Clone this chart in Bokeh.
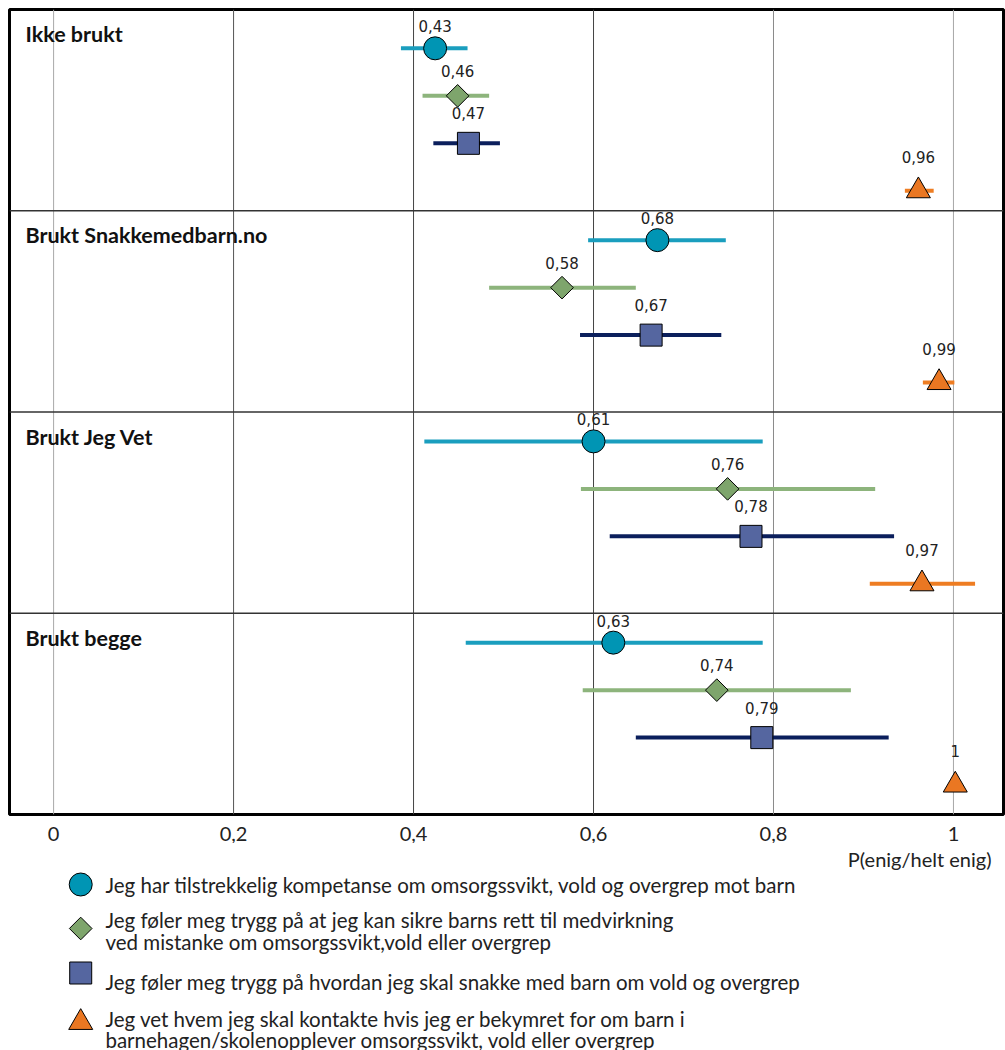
import numpy as np
from bokeh.plotting import figure
from bokeh.models import Range1d, FixedTicker, Span
from bokeh.layouts import column
from bokeh.embed import file_html
from bokeh.resources import INLINE
from bokeh.core.properties import value

# ---------------- data ----------------
groups = ["Ikke brukt", "Brukt Snakkemedbarn.no", "Brukt Jeg Vet", "Brukt begge"]

series_text = [
    ["Jeg har tilstrekkelig kompetanse om omsorgssvikt, vold og overgrep mot barn"],
    ["Jeg føler meg trygg på at jeg kan sikre barns rett til medvirkning",
     "ved mistanke om omsorgssvikt,vold eller overgrep"],
    ["Jeg føler meg trygg på hvordan jeg skal snakke med barn om vold og overgrep"],
    ["Jeg vet hvem jeg skal kontakte hvis jeg er bekymret for om barn i",
     "barnehagen/skolenopplever omsorgssvikt, vold eller overgrep"],
]

est_kompetanse = [0.424, 0.671, 0.600, 0.622]
lo_kompetanse = [0.386, 0.594, 0.412, 0.458]
hi_kompetanse = [0.460, 0.747, 0.788, 0.788]
lab_kompetanse = ["0,43", "0,68", "0,61", "0,63"]

est_medvirkning = [0.449, 0.565, 0.749, 0.737]
lo_medvirkning = [0.410, 0.484, 0.586, 0.588]
hi_medvirkning = [0.484, 0.647, 0.913, 0.886]
lab_medvirkning = ["0,46", "0,58", "0,76", "0,74"]

est_snakke = [0.461, 0.664, 0.775, 0.787]
lo_snakke = [0.422, 0.585, 0.618, 0.647]
hi_snakke = [0.496, 0.742, 0.934, 0.928]
lab_snakke = ["0,47", "0,67", "0,78", "0,79"]

est_kontakte = [0.961, 0.984, 0.965, 1.002]
lo_kontakte = [0.946, 0.966, 0.907, 1.002]
hi_kontakte = [0.978, 1.001, 1.024, 1.002]
lab_kontakte = ["0,96", "0,99", "0,97", "1"]

tick_vals = [0, 0.2, 0.4, 0.6, 0.8, 1]
tick_labels = ["0", "0,2", "0,4", "0,6", "0,8", "1"]
x_axis_label = "P(enig/helt enig)"

# ---------------- styles ----------------
styles = [
    dict(marker="circle", size=23, angle=0, fill="#0095B4", ci="#1A9EBE", dy=-22),
    dict(marker="square", size=16, angle=np.pi / 4, fill="#7EA56C", ci="#8DB47C", dy=-25),
    dict(marker="square", size=22, angle=0, fill="#5566A0", ci="#0B1F5C", dy=-30),
    dict(marker="triangle", size=24, angle=0, fill="#EA7722", ci="#EE7D22", dy=-34),
]
row_pos = [0.146, 0.382, 0.618, 0.854]
group_shift = [0.047, 0.0, 0.0, 0.0]
grid_colors = ["#A8A8A8", "#555555", "#444444", "#444444", "#8A8A8A", "#A8A8A8"]

data = [
    (est_kompetanse, lo_kompetanse, hi_kompetanse, lab_kompetanse),
    (est_medvirkning, lo_medvirkning, hi_medvirkning, lab_medvirkning),
    (est_snakke, lo_snakke, hi_snakke, lab_snakke),
    (est_kontakte, lo_kontakte, hi_kontakte, lab_kontakte),
]

X0, X1 = -0.049, 1.0556
n_groups = len(groups)
W = 1005
MAIN_H = 843

p = figure(width=W, height=MAIN_H, x_range=Range1d(X0, X1),
           y_range=Range1d(n_groups, 0), output_backend="svg",
           toolbar_location=None, y_axis_location=None,
           min_border_left=9, min_border_right=2, min_border_top=9,
           min_border_bottom=28)
p.background_fill_color = "white"
p.outline_line_color = "black"
p.outline_line_width = 3
p.xgrid.visible = False
p.ygrid.visible = False

# vertical grid lines
p.segment(x0=tick_vals, y0=[0] * len(tick_vals), x1=tick_vals,
          y1=[n_groups] * len(tick_vals), line_color=grid_colors, line_width=1)

# panel separators
for k in range(1, n_groups):
    p.add_layout(Span(location=k, dimension="width", line_color="#333333",
                      line_width=1.5))

# panel titles
p.text(x=[X0] * n_groups, y=[k + 0.122 for k in range(n_groups)], text=groups,
       x_offset=16, text_align="left", text_baseline="middle",
       text_font=value("Lato"), text_font_style="bold", text_font_size="21.5px",
       text_color="#111111")

for s, (est, lo, hi, lab) in enumerate(data):
    st = styles[s]
    ys = [k + row_pos[s] + group_shift[k] for k in range(n_groups)]
    p.segment(x0=lo, y0=ys, x1=hi, y1=ys, line_color=st["ci"], line_width=4,
              line_cap="butt")
    p.scatter(x=est, y=ys, marker=st["marker"], size=st["size"], angle=st["angle"],
              fill_color=st["fill"], line_color="black", line_width=1)
    p.text(x=est, y=ys, text=lab, text_align="center", text_baseline="alphabetic",
           y_offset=st["dy"], text_font=value("DejaVu Sans"), text_font_size="15px",
           text_color="#222222")

ax = p.xaxis[0]
ax.ticker = FixedTicker(ticks=tick_vals)
ax.major_label_overrides = {v: l for v, l in zip(tick_vals, tick_labels)}
ax.axis_line_color = None
ax.major_tick_line_color = None
ax.minor_tick_line_color = None
ax.major_label_standoff = 6
ax.major_label_text_font = "Lato"
ax.major_label_text_font_size = "20px"
ax.major_label_text_color = "#222222"

# ---------------- legend figure ----------------
LW, LH = 997, 1050 - MAIN_H
lg = figure(width=LW, height=LH, x_range=Range1d(0, LW), y_range=Range1d(LH, 0),
            output_backend="svg", toolbar_location=None,
            x_axis_location=None, y_axis_location=None, min_border=0)
lg.outline_line_color = None
lg.xgrid.visible = False
lg.ygrid.visible = False

top = 849 - MAIN_H  # legend offsets measured from y=849 on the page
lg.text(x=[993], y=[9 + top], text=[x_axis_label], text_align="right",
        text_baseline="middle", text_font=value("Lato"), text_font_size="20px",
        text_color="#222222")

marker_y = [35, 79, 123.5, 173]
text_y = [[35], [70, 92], [132], [169, 190]]
for s, st in enumerate(styles):
    lg.scatter(x=[72], y=[marker_y[s] + top], marker=st["marker"], size=st["size"],
               angle=st["angle"], fill_color=st["fill"], line_color="black",
               line_width=1)
    lg.text(x=[97] * len(series_text[s]), y=[t + top for t in text_y[s]],
            text=series_text[s], text_align="left", text_baseline="middle",
            text_font=value("Lato"), text_font_size="20.5px", text_color="#222222")

layout = column(p, lg, spacing=0)
open("out.html", "w").write(file_html(layout, INLINE))
